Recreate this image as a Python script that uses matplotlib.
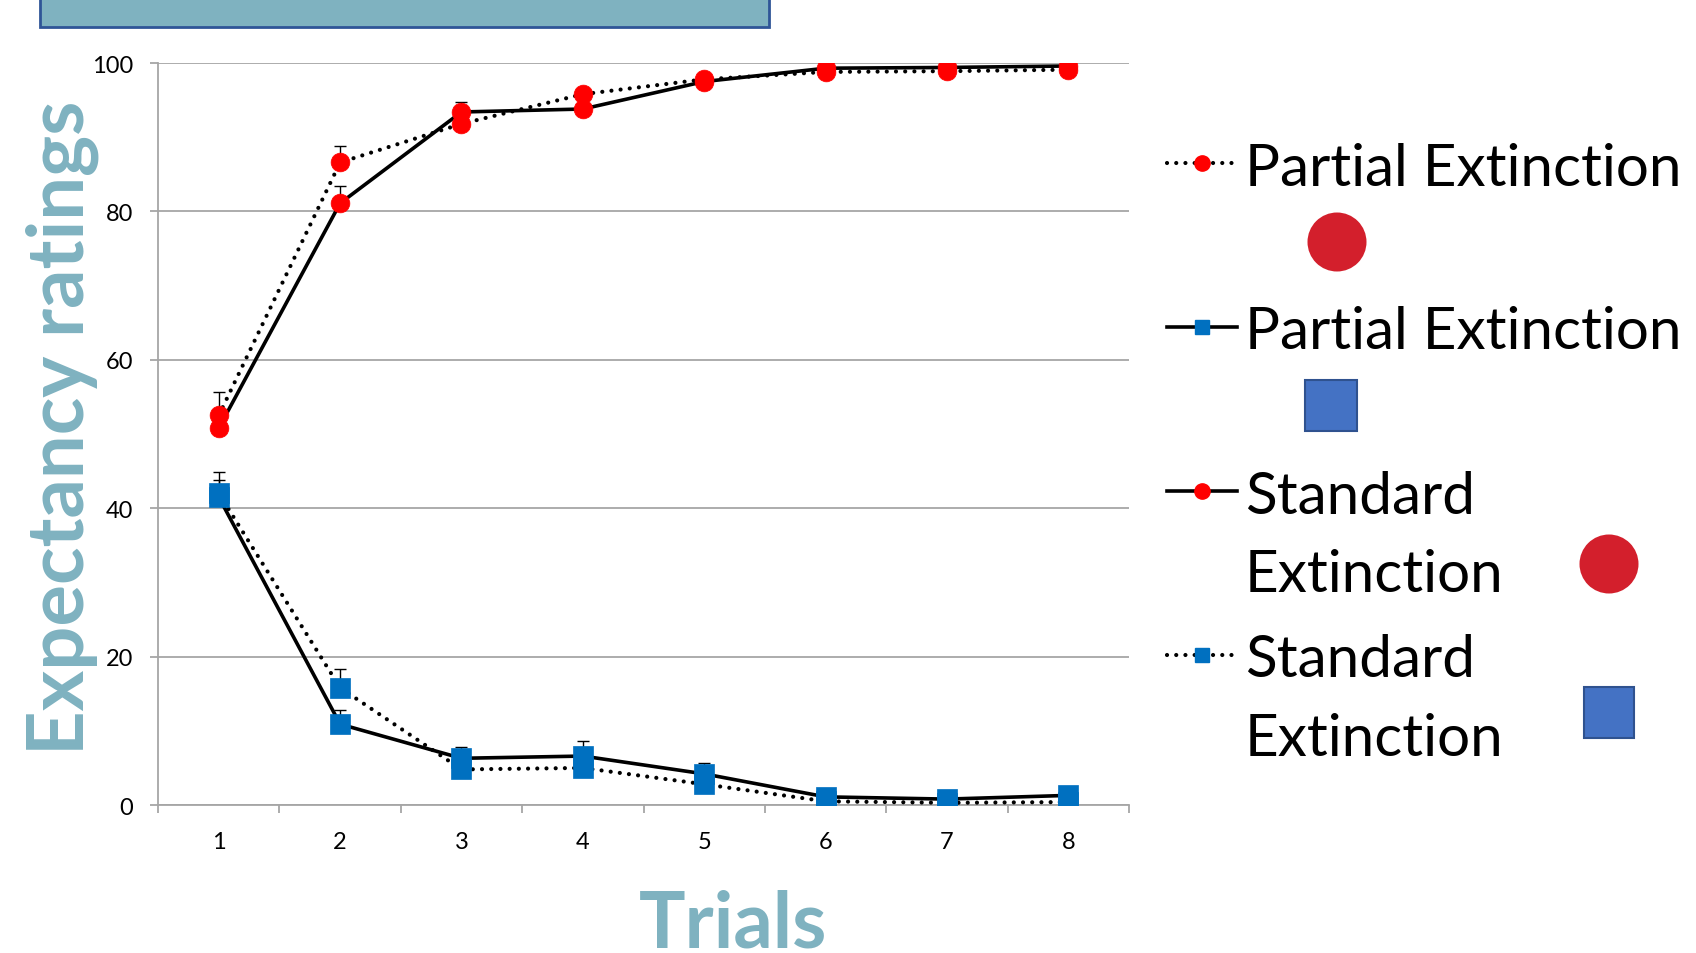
import matplotlib
matplotlib.use("Agg")
import matplotlib.pyplot as plt
from matplotlib.lines import Line2D
from matplotlib.patches import Rectangle, Circle

plt.rcParams['font.family'] = ['Lato', 'DejaVu Sans']

# data
trials = [1, 2, 3, 4, 5, 6, 7, 8]

pe_red = [52.5, 86.6, 91.8, 95.8, 97.8, 98.8, 98.9, 99.1]      # Partial Extinction (red, dotted)
pe_red_err = [3.2, 2.2, 0.9, 0.6, 0.5, 0.3, 0.3, 0.3]
pe_blue = [41.5, 10.9, 6.3, 6.6, 4.2, 1.1, 0.8, 1.3]           # Partial Extinction (blue, solid)
pe_blue_err = [2.3, 1.9, 1.5, 2.0, 1.4, 0.3, 0.3, 0.3]
se_red = [50.8, 81.1, 93.4, 93.8, 97.5, 99.3, 99.4, 99.6]      # Standard Extinction (red, solid)
se_red_err = [0.5, 2.3, 1.4, 0.5, 0.5, 0.3, 0.3, 0.2]
se_blue = [42.0, 15.8, 4.8, 5.0, 2.8, 0.5, 0.3, 0.4]           # Standard Extinction (blue, dotted)
se_blue_err = [2.9, 2.6, 1.0, 1.0, 0.8, 0.2, 0.2, 0.2]

labels = ['Partial Extinction', 'Partial Extinction', 'Standard\nExtinction', 'Standard\nExtinction']

RED = '#FF0000'
BLUE = '#0070C0'
TEAL = '#7FB2C0'
GRID = '#A6A6A6'
DOT = (0, (0.01, 2.2))

fig = plt.figure(figsize=(16.96, 9.54), dpi=100)
ax = fig.add_axes([0.0932, 0.1551, 0.5725, 0.7778])

series = [
    (pe_red, pe_red_err, RED, 'o', DOT),
    (pe_blue, pe_blue_err, BLUE, 's', '-'),
    (se_red, se_red_err, RED, 'o', '-'),
    (se_blue, se_blue_err, BLUE, 's', DOT),
]

# error bars (upper only) under everything
for vals, err, col, mk, ls in series:
    ax.errorbar(trials, vals, yerr=[[0] * len(err), err], fmt='none', ecolor='black',
                elinewidth=1.0, capsize=4.5, capthick=1.0, zorder=2)

# black connecting lines
for vals, err, col, mk, ls in series:
    lw = 2.6 if ls == '-' else 3.0
    ax.plot(trials, vals, color='black', linestyle=ls, linewidth=lw,
            dash_capstyle='round', solid_capstyle='round', zorder=3)
# markers on top
for vals, err, col, mk, ls in series:
    ms = 13.5 if mk == 'o' else 14
    ax.plot(trials, vals, linestyle='none', marker=mk, markersize=ms,
            markerfacecolor=col, markeredgecolor=col, markeredgewidth=0.5, zorder=4)

ax.set_xlim(0.5, 8.5)
ax.set_ylim(0, 100)
ax.set_yticks([0, 20, 40, 60, 80, 100])
ax.set_xticks(trials)
ax.set_xticks([t + 0.5 for t in [0] + trials], minor=True)
ax.yaxis.grid(True, color=GRID, linewidth=1.3)
ax.set_axisbelow(True)
for s in ['top', 'right']:
    ax.spines[s].set_visible(False)
for s in ['left', 'bottom']:
    ax.spines[s].set_color(GRID)
    ax.spines[s].set_linewidth(1.3)
ax.tick_params(axis='y', length=5.8, width=1.3, color=GRID, labelsize=17, pad=12)
ax.tick_params(axis='x', which='major', length=0, labelsize=17, pad=19)
ax.tick_params(axis='x', which='minor', length=5.5, width=1.3, color=GRID)

# overlay in pixel coordinates for the slide decorations and legend
ov = fig.add_axes([0, 0, 1, 1])
ov.set_xlim(0, 1696)
ov.set_ylim(954, 0)
ov.axis('off')
ov.patch.set_alpha(0)

ov.add_patch(Rectangle((40, -20), 729, 48, facecolor=TEAL, edgecolor='#2F5597', linewidth=2))

ov.text(62, 428, 'Expectancy ratings', rotation=90, ha='center', va='center',
        color=TEAL, fontsize=56, fontweight='bold')
ov.text(733, 948, 'Trials', ha='center', va='baseline', color=TEAL, fontsize=56, fontweight='bold')

# legend
rows = [164, 328, 492, 656]
for (vals, err, col, mk, ls), lab, y in zip(series, labels, rows):
    lw = 2.6 if ls == '-' else 3.0
    ov.add_line(Line2D([1167, 1237], [y, y], color='black', linestyle=ls, linewidth=lw,
                       dash_capstyle='round'))
    ov.plot([1202], [y], marker=mk, markersize=11 if mk == 'o' else 10,
            color=col, linestyle='none')
    for i, t in enumerate(lab.split('\n')):
        ov.text(1245, y + i * 79, t, ha='left', va='center_baseline', fontsize=42)

# slide shapes
ov.add_patch(Circle((1337, 243), 29.5, facecolor='#D31F2C', edgecolor='none'))
ov.add_patch(Rectangle((1305, 381), 52, 51, facecolor='#4472C4', edgecolor='#2F528F', linewidth=1.5))
ov.add_patch(Circle((1609, 565), 29.5, facecolor='#D31F2C', edgecolor='none'))
ov.add_patch(Rectangle((1584, 688), 50, 51, facecolor='#4472C4', edgecolor='#2F528F', linewidth=1.5))

fig.savefig('out.png', dpi=100)
